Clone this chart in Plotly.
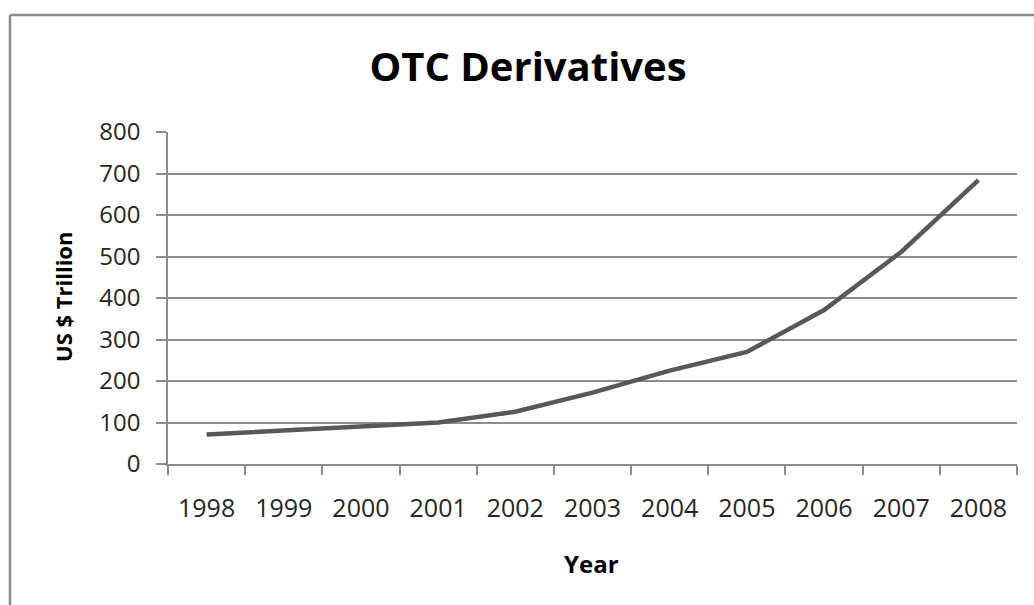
import plotly.graph_objects as go

# OTC derivatives outstanding, notional amounts (US$ trillion)
years = ["1998", "1999", "2000", "2001", "2002", "2003",
         "2004", "2005", "2006", "2007", "2008"]
notional = [71, 81, 91, 100, 126, 172, 225, 270, 371, 511, 684]

y_ticks = [0, 100, 200, 300, 400, 500, 600, 700, 800]

GRID = "#8c8c8c"
TEXT = "#262626"

fig = go.Figure(
    go.Scatter(
        x=years,
        y=notional,
        mode="lines",
        line=dict(color="#58585a", width=4.5),
        hoverinfo="x+y",
    )
)

W, H = 1034, 605
L, R, T, B = 168, 17, 132, 141
pw, ph = W - L - R, H - T - B


def px_x(p):
    return (p - L) / pw


def px_y(p):
    return (H - B - p) / ph


fig.update_layout(
    width=W,
    height=H,
    margin=dict(l=L, r=R, t=T, b=B, pad=0),
    paper_bgcolor="white",
    plot_bgcolor="white",
    showlegend=False,
    font=dict(family="Open Sans, sans-serif", color=TEXT),
    xaxis=dict(
        type="category",
        range=[-0.5, len(years) - 0.5],
        tickson="boundaries",
        ticks="outside",
        ticklen=9,
        tickwidth=1.5,
        tickcolor=GRID,
        showgrid=False,
        showline=True,
        linecolor=GRID,
        linewidth=1.5,
        tickfont=dict(size=25, color=TEXT),
        ticklabelstandoff=21,
        zeroline=False,
    ),
    yaxis=dict(
        range=[0, 800],
        tickvals=y_ticks,
        ticks="outside",
        ticklen=10,
        tickwidth=1.5,
        tickcolor=GRID,
        showgrid=True,
        gridcolor=GRID,
        gridwidth=1.5,
        showline=True,
        linecolor=GRID,
        linewidth=1.5,
        zeroline=False,
        tickfont=dict(size=24, color=TEXT),
        ticklabelstandoff=11,
    ),
    title=dict(
        text="<b>OTC Derivatives</b>",
        x=px_x(528),
        xref="paper",
        xanchor="center",
        y=1 - 67 / H,
        yref="container",
        yanchor="middle",
        font=dict(size=40, color="black", family="Open Sans, sans-serif"),
    ),
)

# axis titles
fig.add_annotation(
    text="<b>Year</b>", x=px_x(591), y=px_y(563), xref="paper", yref="paper",
    showarrow=False, xanchor="center", yanchor="middle",
    font=dict(size=24, color="black"),
)
fig.add_annotation(
    text="<b>US $ Trillion</b>", x=px_x(63), y=px_y(297), xref="paper", yref="paper",
    showarrow=False, xanchor="center", yanchor="middle", textangle=-90,
    font=dict(size=22, color="black"),
)

# chart frame: top and left edges (the rest runs off the page)
frame = dict(color="#8a8a8a", width=2.5)
fig.add_shape(
    type="line", xref="paper", yref="paper",
    x0=px_x(10), x1=px_x(W + 50), y0=px_y(15), y1=px_y(15),
    line=frame, layer="below",
)
fig.add_shape(
    type="line", xref="paper", yref="paper",
    x0=px_x(10), x1=px_x(10), y0=px_y(15), y1=px_y(H + 50),
    line=frame, layer="below",
)

fig.write_html("out.html")
